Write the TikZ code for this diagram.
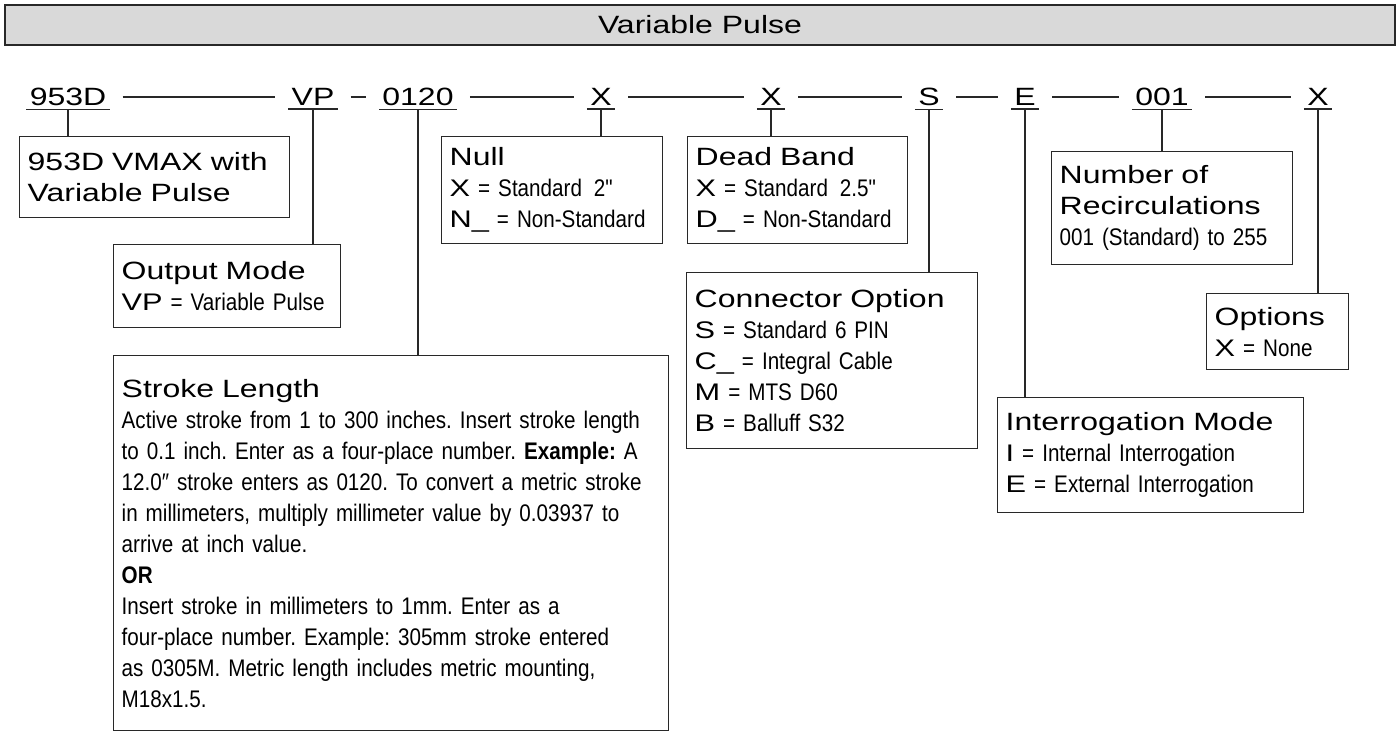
\documentclass[tikz,border=0pt]{standalone}
\usepackage{fontspec}
\setmainfont{Liberation Sans}
\newfontfamily\hdfont[FakeStretch=1.28]{Liberation Sans}
\newfontfamily\bdfont[FakeStretch=0.86]{Liberation Sans}
\usepackage{xcolor}
\usepackage{tikz}

\definecolor{hdrgray}{RGB}{217,217,217}
\definecolor{inkgray}{RGB}{40,40,40}
\newcommand\boxtitle[1]{{\hdfont\fontsize{12.5}{15.5}\selectfont #1}}
\newcommand\optkey[1]{{\hdfont #1}}
\frenchspacing

\begin{document}
\begin{tikzpicture}
      [ x=0.5pt, y=-0.5pt
      , hdr/.style={draw=inkgray, fill=hdrgray, line width=0.7pt, minimum width=695pt, minimum height=20pt, font=\hdfont\fontsize{12.5}{15}\selectfont}
      , code/.style={font=\hdfont\fontsize{12.5}{15}\selectfont, inner xsep=1.5pt, inner ysep=1.5pt}
      , joint/.style={inkgray, line width=0.7pt, shorten <=6.5pt, shorten >=6.5pt}
      , tick/.style={inkgray, line width=0.7pt}
      , infobox/.style={draw=inkgray, line width=0.7pt, anchor=north west, align=left, inner xsep=4pt, inner ysep=2pt, font=\bdfont\fontsize{12}{15.5}\selectfont}
      ]
    \useasboundingbox (0,0) rectangle (1399,732);

    \node[hdr] (T) at (700,25) {Variable Pulse};

    % model code
    \node[code] (c1) at (68,97) {953D};
    \node[code] (c2) at (313,97) {VP};
    \node[code] (c3) at (418,97) {0120};
    \node[code] (c4) at (601,97) {X};
    \node[code] (c5) at (771,97) {X};
    \node[code] (c6) at (929,97) {S};
    \node[code] (c7) at (1025,97) {E};
    \node[code] (c8) at (1162,97) {001};
    \node[code] (c9) at (1318,97) {X};

    \foreach \i in {1,...,9}
      \draw[tick] (c\i.south west) -- (c\i.south east);
    \foreach \a/\b in {1/2,2/3,3/4,4/5,5/6,6/7,7/8,8/9}
      \draw[joint] (c\a) -- (c\b);

    % option boxes
    \node[infobox, text width=127pt, minimum height=40.5pt] (M) at (19,136)
      {\boxtitle{953D VMAX with}\\\boxtitle{Variable Pulse}};
    \node[infobox, text width=105.5pt, minimum height=41.5pt] (OM) at (113,244)
      {\boxtitle{Output Mode}\\\optkey{VP} = Variable Pulse};
    \node[infobox, text width=269.5pt, minimum height=187.5pt] (SL) at (113,355)
      {\boxtitle{Stroke Length}\\
       Active stroke from 1 to 300 inches. Insert stroke length\\
       to 0.1 inch. Enter as a four-place number. \textbf{Example:} A\\
       12.0\char"2033{} stroke enters as 0120. To convert a metric stroke\\
       in millimeters, multiply millimeter value by 0.03937 to\\
       arrive at inch value.\\
       \textbf{OR}\\
       Insert stroke in millimeters to 1mm. Enter as a\\
       four-place number. Example: 305mm stroke entered\\
       as 0305M. Metric length includes metric mounting,\\
       M18x1.5.};
    \node[infobox, text width=102.5pt, minimum height=53.5pt] (NL) at (441,136)
      {\boxtitle{Null}\\\optkey{X} = Standard\enspace 2"\\\optkey{N\_} = Non-Standard};
    \node[infobox, text width=102pt, minimum height=53.5pt] (DB) at (687,136)
      {\boxtitle{Dead Band}\\\optkey{X} = Standard\enspace 2.5"\\\optkey{D\_} = Non-Standard};
    \node[infobox, text width=137.5pt, minimum height=88pt] (CO) at (686,272)
      {\boxtitle{Connector Option}\\\optkey{S} = Standard 6 PIN\\\optkey{C\_} = Integral Cable\\
       \optkey{M} = MTS D60\\\optkey{B} = Balluff S32};
    \node[infobox, text width=145pt, minimum height=57.5pt] (IM) at (997,397)
      {\boxtitle{Interrogation Mode}\\\optkey{I} = Internal Interrogation\\\optkey{E} = External Interrogation};
    \node[infobox, text width=112.5pt, minimum height=56.5pt] (NR) at (1051,151)
      {\boxtitle{Number of}\\\boxtitle{Recirculations}\\001 (Standard) to 255};
    \node[infobox, text width=63pt, minimum height=38pt] (OP) at (1206,293)
      {\boxtitle{Options}\\\optkey{X} = None};

    % ticks down to the boxes
    \draw[tick] (c1.south) -- (c1.south |- M.north);
    \draw[tick] (c2.south) -- (c2.south |- OM.north);
    \draw[tick] (c3.south) -- (c3.south |- SL.north);
    \draw[tick] (c4.south) -- (c4.south |- NL.north);
    \draw[tick] (c5.south) -- (c5.south |- DB.north);
    \draw[tick] (c6.south) -- (c6.south |- CO.north);
    \draw[tick] (c7.south) -- (c7.south |- IM.north);
    \draw[tick] (c8.south) -- (c8.south |- NR.north);
    \draw[tick] (c9.south) -- (c9.south |- OP.north);
\end{tikzpicture}
\end{document}
